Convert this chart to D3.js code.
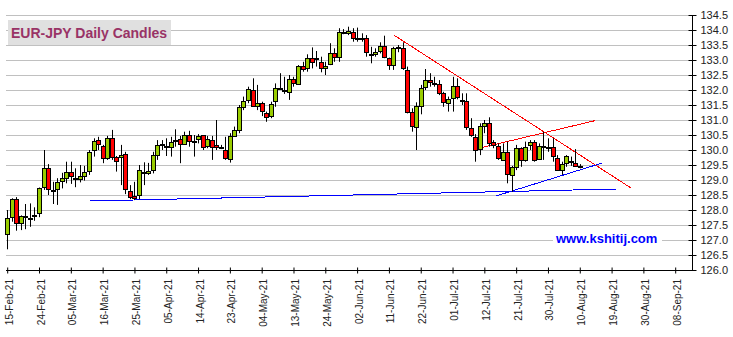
<!DOCTYPE html>
<html>
<head>
<meta charset="utf-8">
<script src="https://cdn.jsdelivr.net/npm/d3@7"></script>
<style>
  html, body { margin: 0; padding: 0; background: #fff; }
  svg { display: block; font-family: "Liberation Sans", Arial, sans-serif; }
</style>
</head>
<body>
<svg id="chart" width="733" height="337"></svg>
<script>
// EUR-JPY daily OHLC, one entry per trading day starting 15-Feb-21
const open = [
  127.19,127.76,128.36,127.56,127.76,127.72,127.78,127.89,128.76,129.39,
  128.65,128.69,128.97,129.06,129.26,129.03,129.04,129.14,129.28,130.00,
  130.33,130.13,129.72,130.39,129.76,129.76,129.87,128.63,128.47,128.50,
  129.22,129.25,129.33,129.83,130.18,130.14,130.11,130.30,130.36,130.20,
  130.50,130.30,130.36,130.50,130.13,130.33,130.17,130.09,130.00,129.72,
  130.47,130.64,131.42,131.67,132.00,131.47,131.56,131.22,131.13,131.61,
  132.05,131.99,131.94,132.36,132.19,132.80,132.72,133.06,133.04,132.94,
  132.72,132.86,133.22,133.08,133.90,133.89,133.92,133.74,133.75,133.72,
  133.20,133.19,133.30,133.48,133.06,132.83,133.42,133.39,132.67,131.26,
  130.78,131.48,132.10,132.33,132.23,132.20,131.89,131.56,131.72,132.13,
  131.67,131.64,130.72,130.44,130.02,130.80,130.91,130.28,130.13,129.69,
  129.94,129.17,129.44,130.06,129.67,130.17,130.28,129.69,130.13,130.11,
  130.09,129.72,129.33,129.56,129.63,129.56,129.47
];
const high = [
  128.00,128.39,128.43,127.82,128.20,128.22,128.09,128.75,130.00,129.53,
  128.94,129.06,129.24,129.61,129.61,129.39,129.50,129.47,130.00,130.39,
  130.44,130.17,130.47,130.67,129.80,130.17,129.94,128.83,128.94,129.50,
  129.59,129.57,129.94,130.33,130.33,130.39,130.44,130.69,130.47,130.61,
  130.64,130.50,130.53,130.50,130.47,130.47,131.00,130.17,130.44,130.56,
  130.78,131.50,131.78,132.11,132.39,132.17,131.61,131.28,131.61,132.22,
  132.56,132.44,132.50,132.44,132.83,132.94,133.19,133.42,133.30,133.11,
  132.94,133.56,133.39,134.06,134.03,134.11,134.06,134.08,133.89,133.83,
  133.44,133.39,133.59,133.81,133.08,133.44,133.50,133.59,132.78,131.39,
  131.59,132.17,132.70,132.56,132.44,132.33,131.94,131.78,132.44,132.39,
  131.89,131.89,131.06,130.53,130.89,131.00,131.09,130.33,130.22,130.22,
  130.28,129.47,130.17,130.09,130.28,130.33,130.33,130.22,130.61,130.39,
  130.39,129.83,129.61,129.83,129.78,130.03,129.53
];
const low = [
  126.69,127.61,127.31,127.33,127.36,127.44,127.64,127.76,128.67,128.50,
  128.20,128.17,128.72,128.89,128.87,128.76,128.92,128.98,129.17,129.78,
  130.00,129.56,129.67,129.67,129.28,128.83,128.53,128.36,128.33,128.36,
  128.83,129.17,129.22,129.67,130.00,129.80,129.78,130.11,129.56,130.17,
  130.11,129.78,130.22,130.00,130.06,129.67,130.00,130.03,129.67,129.58,
  130.44,130.56,131.33,131.56,131.44,131.33,131.13,130.94,131.06,131.44,
  132.00,131.87,131.67,132.11,132.17,132.61,132.61,132.72,132.78,132.59,
  132.50,132.83,132.94,132.94,133.86,133.83,133.61,133.61,133.61,133.11,
  132.89,133.11,133.22,133.06,132.67,132.67,133.26,132.67,131.22,130.61,
  130.00,131.19,132.00,132.11,132.11,131.83,131.44,131.28,131.28,131.69,
  131.50,130.67,130.44,129.61,129.83,130.56,130.11,130.06,129.67,129.67,
  128.89,128.61,129.33,129.44,129.61,130.00,129.61,129.67,129.67,129.94,
  129.61,129.33,129.17,129.44,129.47,129.44,129.39
];
const close = [
  127.72,128.36,127.56,127.80,127.79,127.73,127.82,128.72,129.39,128.69,
  128.62,128.92,129.06,129.26,129.13,129.05,129.13,129.27,129.92,130.31,
  130.19,129.72,130.39,129.76,129.64,129.83,128.72,128.44,128.42,129.33,
  129.26,129.30,129.83,130.17,130.20,130.13,130.28,130.33,130.20,130.50,
  130.30,130.31,130.47,130.11,130.36,130.11,130.09,130.08,129.72,130.47,
  130.67,131.42,131.63,132.02,131.47,131.56,131.28,131.09,131.53,132.06,
  132.06,131.98,132.36,132.22,132.80,132.70,133.06,132.92,133.06,132.74,
  132.80,133.22,133.08,133.92,133.92,133.97,133.72,133.75,133.74,133.26,
  133.20,133.26,133.48,133.11,132.83,133.41,133.42,132.72,131.26,130.78,
  131.48,132.08,132.33,132.26,132.22,131.89,131.58,131.70,132.13,131.76,
  131.67,130.78,130.50,130.02,130.80,130.91,130.24,130.17,129.72,129.94,
  129.20,129.44,130.06,129.67,130.11,130.28,129.67,130.13,130.14,130.10,
  129.78,129.33,129.53,129.81,129.64,129.47,129.45
];

// Date labels on the time axis, one every seven trading days
const dateLabels = [
  "15-Feb-21","24-Feb-21","05-Mar-21","16-Mar-21","25-Mar-21","05-Apr-21",
  "14-Apr-21","23-Apr-21","04-May-21","13-May-21","24-May-21","02-Jun-21",
  "11-Jun-21","22-Jun-21","01-Jul-21","12-Jul-21","21-Jul-21","30-Jul-21",
  "10-Aug-21","19-Aug-21","30-Aug-21","08-Sep-21"
];
const labelStep = 7;

// Price axis ticks
const priceTicks = d3.range(126, 134.5001, 0.5);

// Trend lines as [trading-day index, price] end points
const falling = [[85.1, 133.83], [137.2, 128.74]];
const channelTop = [[104.4, 130.08], [129.4, 130.98]];
const risingSupport = [[107.6, 128.47], [130.8, 129.56]];
const longSupport = [[18.2, 128.30], [134.2, 128.70]];

const svg = d3.select("#chart");
const plotLeft = 6, plotRight = 692;

const x = d3.scaleLinear()
  .domain([0, (dateLabels.length - 1) * labelStep])
  .range([7.2, 675.2]);
const y = d3.scaleLinear().domain([126, 134.5]).range([270, 15]);

// horizontal grid
svg.append("g").selectAll("line")
  .data(priceTicks.filter(v => v > 126))
  .join("line")
  .attr("x1", plotLeft).attr("x2", plotRight)
  .attr("y1", d => Math.round(y(d)) + 0.5).attr("y2", d => Math.round(y(d)) + 0.5)
  .attr("stroke", "#c0c0c0").attr("stroke-width", 1);

// title box
svg.append("rect").attr("x", 8).attr("y", 20).attr("width", 163).attr("height", 25)
  .attr("fill", "#e0e0e0");
svg.append("text").attr("x", 11).attr("y", 37.5)
  .attr("font-size", 14).attr("font-weight", "bold").attr("fill", "#993366")
  .text("EUR-JPY Daily Candles");

// site label
const site = svg.append("g");
site.append("rect").attr("x", 553).attr("y", 230).attr("width", 109).attr("height", 15)
  .attr("fill", "#fff");
site.append("text").attr("x", 556).attr("y", 243)
  .attr("font-size", 13).attr("font-weight", "bold").attr("fill", "#0000ff")
  .text("www.kshitij.com");

// trend lines
const lineGen = d3.line().x(d => x(d[0])).y(d => y(d[1]));
[[falling, "#ff0000"], [channelTop, "#ff0000"], [risingSupport, "#0000ff"], [longSupport, "#0000ff"]]
  .forEach(([pts, col]) => {
    svg.append("path").attr("d", lineGen(pts)).attr("fill", "none")
      .attr("stroke", col).attr("stroke-width", 1)
      .attr("shape-rendering", "crispEdges");
  });

// candles
const candles = open.map((o, i) => ({ i, o, h: high[i], l: low[i], c: close[i] }));
const cg = svg.append("g").selectAll("g").data(candles).join("g");
cg.append("line")
  .attr("x1", d => Math.round(x(d.i)) + 0.5).attr("x2", d => Math.round(x(d.i)) + 0.5)
  .attr("y1", d => y(d.h)).attr("y2", d => y(d.l))
  .attr("stroke", "#000").attr("stroke-width", 1);
cg.append("rect")
  .attr("x", d => Math.round(x(d.i)) - 1.5)
  .attr("y", d => Math.round(y(Math.max(d.o, d.c))) + 0.5)
  .attr("width", 4)
  .attr("height", d => Math.max(1, Math.round(Math.abs(y(d.o) - y(d.c)))))
  .attr("fill", d => d.c >= d.o ? "#99cc00" : "#ff0000")
  .attr("stroke", "#000").attr("stroke-width", 1);

// price axis on the right
const yAxis = svg.append("g").attr("transform", `translate(${plotRight + 0.5},0)`)
  .call(d3.axisRight(y).tickValues(priceTicks).tickSize(4).tickPadding(4)
    .tickFormat(d3.format(".1f")));
yAxis.select(".domain").attr("d", `M0,${y(134.5)}V${y(126)}`).attr("stroke", "#000");
yAxis.selectAll(".tick line").attr("x1", -4).attr("stroke", "#000");
yAxis.selectAll(".tick text").attr("font-size", 11)
  .attr("font-family", "'Liberation Sans', Arial, sans-serif").attr("fill", "#222");

// time axis
const tickIdx = dateLabels.map((_, k) => k * labelStep);
const xAxis = svg.append("g").attr("transform", `translate(0,${y(126) + 0.5})`)
  .call(d3.axisBottom(x).tickValues(tickIdx).tickSize(3).tickFormat(""));
xAxis.select(".domain").attr("d", `M${plotLeft},0H${plotRight}`).attr("stroke", "#000");
xAxis.selectAll(".tick line").attr("y1", -3).attr("stroke", "#000");

svg.append("g").selectAll("text").data(tickIdx).join("text")
  .attr("transform", d => `translate(${x(d) + 5.5},279) rotate(-90)`)
  .attr("text-anchor", "end")
  .attr("font-size", 10).attr("fill", "#222")
  .text((d, k) => dateLabels[k]);
</script>
</body>
</html>
